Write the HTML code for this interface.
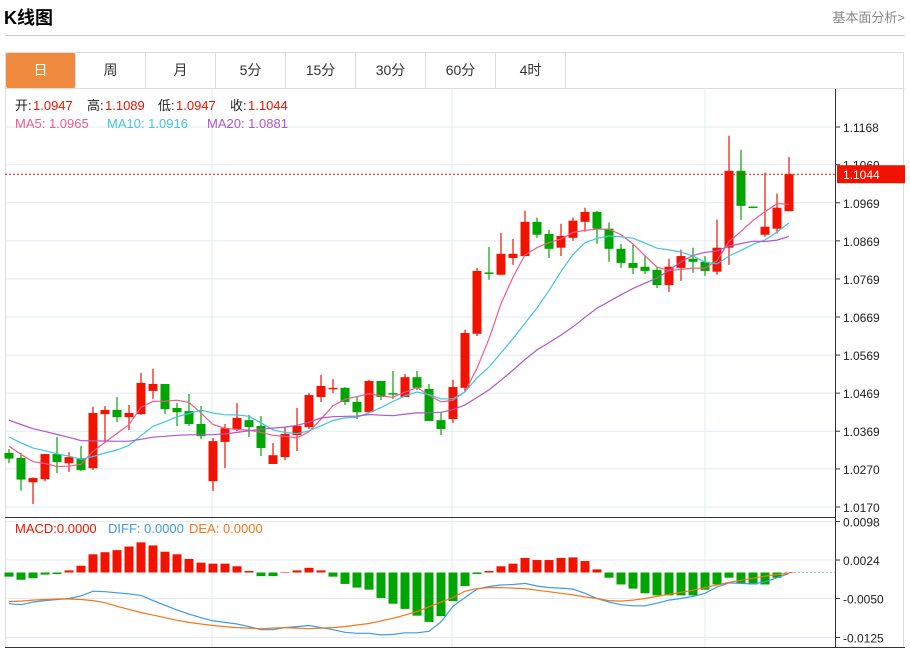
<!DOCTYPE html>
<html><head><meta charset="utf-8">
<style>
body{margin:0;width:910px;height:648px;background:#fff;font-family:"Liberation Sans","Noto Sans CJK SC",sans-serif;overflow:hidden;position:relative}
#title{position:absolute;left:4px;top:4px;font-size:18px;font-weight:bold;color:#000}
#more{position:absolute;right:5px;top:7px;font-size:13px;color:#888}
#hr{position:absolute;left:5px;top:35px;width:900px;height:1px;background:#ccc}
#box{position:absolute;left:5px;top:52px;width:899px;height:596px;border:1px solid #ddd;border-bottom:none;box-sizing:border-box}
.tab{position:absolute;top:53px;height:35px;width:70px;line-height:35px;text-align:center;font-size:14px;color:#333;border-right:1px solid #ddd;box-sizing:border-box}
.tab.on{background:#f08a3e;color:#fff;border-radius:2px}
svg{position:absolute;left:0;top:0}
</style></head><body>
<div id="title">K线图</div>
<div id="more">基本面分析&gt;</div>
<div id="hr"></div>
<div id="box"></div>
<div class="tab on" style="left:6px">日</div>
<div class="tab" style="left:76px">周</div>
<div class="tab" style="left:146px">月</div>
<div class="tab" style="left:216px">5分</div>
<div class="tab" style="left:286px">15分</div>
<div class="tab" style="left:356px">30分</div>
<div class="tab" style="left:426px">60分</div>
<div class="tab" style="left:496px">4时</div>
<svg id="chart" width="910" height="648"></svg>
<script>
const opens=[1.0312,1.0299,1.0235,1.0243,1.0309,1.0285,1.0298,1.0272,1.0414,1.0425,1.0406,1.0414,1.0475,1.0493,1.0430,1.0422,1.0388,1.0238,1.0341,1.0375,1.0398,1.0383,1.0283,1.0301,1.0359,1.0380,1.0459,1.0480,1.0483,1.0446,1.0419,1.0501,1.0469,1.0459,1.0511,1.0480,1.0398,1.0401,1.0483,1.0625,1.0786,1.0780,1.0824,1.0829,1.0919,1.0887,1.0851,1.0877,1.0919,1.0945,1.0901,1.0848,1.0811,1.0801,1.0793,1.0753,1.0798,1.0822,1.0814,1.0788,1.0851,1.1053,1.0959,1.0885,1.0901,1.0947];
const highs=[1.0322,1.0312,1.0248,1.0309,1.0354,1.0314,1.0330,1.0433,1.0435,1.0459,1.0438,1.0522,1.0533,1.0493,1.0443,1.0467,1.0435,1.0351,1.0388,1.0443,1.0412,1.0409,1.0338,1.0380,1.0430,1.0469,1.0517,1.0506,1.0485,1.0459,1.0504,1.0501,1.0527,1.0519,1.0527,1.0493,1.0419,1.0504,1.0635,1.0798,1.0853,1.0890,1.0874,1.0948,1.0930,1.0898,1.0914,1.0930,1.0956,1.0948,1.0917,1.0861,1.0859,1.0830,1.0801,1.0822,1.0846,1.0851,1.0829,1.0925,1.1145,1.1108,1.0959,1.1048,1.0993,1.1089];
const lows=[1.0285,1.0213,1.0178,1.0238,1.0259,1.0262,1.0264,1.0267,1.0341,1.0393,1.0372,1.0412,1.0454,1.0414,1.0383,1.0383,1.0348,1.0212,1.0272,1.0369,1.0354,1.0304,1.0283,1.0293,1.0317,1.0375,1.0446,1.0469,1.0438,1.0401,1.0417,1.0451,1.0454,1.0459,1.0477,1.0396,1.0359,1.0391,1.0472,1.0619,1.0767,1.0780,1.0806,1.0829,1.0877,1.0824,1.0829,1.0869,1.0893,1.0861,1.0814,1.0798,1.0782,1.0782,1.0745,1.0735,1.0764,1.0785,1.0777,1.0780,1.0806,1.0924,1.0958,1.0880,1.0888,1.0947];
const closes=[1.0297,1.0242,1.0246,1.0309,1.0288,1.0301,1.0267,1.0417,1.0425,1.0406,1.0417,1.0496,1.0493,1.0427,1.0419,1.0388,1.0356,1.0343,1.0377,1.0404,1.0380,1.0325,1.0306,1.0362,1.0383,1.0464,1.0488,1.0483,1.0446,1.0419,1.0501,1.0459,1.0467,1.0511,1.0483,1.0396,1.0375,1.0485,1.0627,1.0790,1.0782,1.0835,1.0835,1.0919,1.0885,1.0848,1.0882,1.0922,1.0945,1.0901,1.0848,1.0811,1.0798,1.0790,1.0753,1.0801,1.0829,1.0814,1.0790,1.0851,1.1053,1.0961,1.0958,1.0906,1.0956,1.1044];
const prevCloses=[1.0470,1.0462,1.0455,1.0450,1.0445,1.0440,1.0435,1.0430,1.0423,1.0410,1.0395,1.0385,1.0378,1.0370,1.0362,1.0350,1.0342,1.0333,1.0327];
const priceTicks=[1.1168,1.1069,1.0969,1.0869,1.0769,1.0669,1.0569,1.0469,1.0369,1.0270,1.0170];
const macdHist=[-0.0008,-0.0014,-0.0011,-0.0004,-0.0003,0.0004,0.0013,0.0035,0.0039,0.0043,0.0050,0.0058,0.0052,0.0040,0.0035,0.0026,0.0019,0.0017,0.0017,0.0012,0.0003,-0.0007,-0.0007,0.0000,0.0004,0.0009,0.0004,-0.0008,-0.0022,-0.0029,-0.0033,-0.0049,-0.0060,-0.0070,-0.0083,-0.0095,-0.0084,-0.0055,-0.0026,-0.0003,0.0003,0.0012,0.0017,0.0028,0.0024,0.0024,0.0028,0.0029,0.0022,0.0006,-0.0010,-0.0023,-0.0031,-0.0040,-0.0044,-0.0044,-0.0044,-0.0044,-0.0033,-0.0023,-0.0010,-0.0021,-0.0023,-0.0023,-0.0010,0.0000];
const diff=[-0.0060,-0.0062,-0.0057,-0.0054,-0.0052,-0.0050,-0.0045,-0.0036,-0.0037,-0.0039,-0.0041,-0.0044,-0.0054,-0.0063,-0.0072,-0.0080,-0.0087,-0.0093,-0.0096,-0.0099,-0.0104,-0.0110,-0.0110,-0.0106,-0.0104,-0.0102,-0.0106,-0.0110,-0.0115,-0.0117,-0.0117,-0.0120,-0.0119,-0.0116,-0.0116,-0.0113,-0.0095,-0.0065,-0.0048,-0.0032,-0.0027,-0.0024,-0.0023,-0.0021,-0.0026,-0.0029,-0.0030,-0.0032,-0.0040,-0.0050,-0.0057,-0.0062,-0.0064,-0.0064,-0.0059,-0.0053,-0.0050,-0.0046,-0.0040,-0.0028,-0.0020,-0.0021,-0.0022,-0.0018,-0.0010,-0.0002];
const dea=[-0.0056,-0.0055,-0.0053,-0.0052,-0.0051,-0.0051,-0.0052,-0.0054,-0.0058,-0.0065,-0.0071,-0.0077,-0.0082,-0.0087,-0.0092,-0.0096,-0.0099,-0.0102,-0.0104,-0.0106,-0.0107,-0.0108,-0.0107,-0.0106,-0.0107,-0.0108,-0.0107,-0.0106,-0.0104,-0.0101,-0.0098,-0.0093,-0.0088,-0.0082,-0.0075,-0.0066,-0.0057,-0.0048,-0.0036,-0.0031,-0.0029,-0.0029,-0.0030,-0.0031,-0.0034,-0.0037,-0.0040,-0.0043,-0.0047,-0.0050,-0.0054,-0.0055,-0.0053,-0.0050,-0.0046,-0.0042,-0.0038,-0.0034,-0.0029,-0.0024,-0.0019,-0.0015,-0.0011,-0.0007,-0.0004,-0.0001];
const macdTicks=[0.0098,0.0024,-0.0050,-0.0125];

const NS='http://www.w3.org/2000/svg';
const svg=document.getElementById('chart');
function mk(tag,attrs,parent){const e=document.createElementNS(NS,tag);for(const k in attrs)e.setAttribute(k,attrs[k]);(parent||svg).appendChild(e);return e;}
const xOf=i=>9+12*i;
const yP=p=>127+(1.1168-p)*3807.6;
const yM=v=>572.5-v*5200;
const RED='#f21200',GREEN='#00a600';

// grid
[212,452,705].forEach(x=>{const g=mk('line',{x1:x,x2:x,y1:89,y2:648,stroke:'#e2ebf2'});

});
mk('line',{x1:5,x2:905,y1:88.5,y2:88.5,stroke:'#ddd'});
priceTicks.forEach(t=>{const y=yP(t);
const g=mk('line',{x1:5,x2:835,y1:y,y2:y,stroke:'#e2ebf2'});


mk('line',{x1:835,x2:840,y1:y,y2:y,stroke:'#333'});
const tx=mk('text',{x:843,y:y+5,'font-size':12,fill:'#222'});tx.textContent=t.toFixed(4);

});
macdTicks.forEach(t=>{const y=yM(t);
const g=mk('line',{x1:5,x2:835,y1:y,y2:y,stroke:'#e2ebf2'});


mk('line',{x1:835,x2:840,y1:y,y2:y,stroke:'#333'});
const tx=mk('text',{x:843,y:y+5,'font-size':12,fill:'#222'});tx.textContent=t.toFixed(4);

});
mk('line',{x1:835.5,x2:835.5,y1:89,y2:648,stroke:'#333'});
mk('line',{x1:5,x2:835,y1:517.5,y2:517.5,stroke:'#333'});
mk('line',{x1:5,x2:905,y1:647.5,y2:647.5,stroke:'#333'});
mk('line',{x1:790,x2:835,y1:yM(0),y2:yM(0),stroke:'#8fd3e8','stroke-dasharray':'2,2'});

// candles
closes.forEach((c,i)=>{const o=opens[i],up=c>=o,col=up?RED:GREEN,x=xOf(i);
const g=mk('g',{});


mk('line',{x1:x,x2:x,y1:yP(highs[i]),y2:yP(lows[i]),stroke:col,'stroke-width':1.2},g);
const t=yP(Math.max(o,c)),b=yP(Math.min(o,c));
mk('rect',{x:x-4.5,y:t,width:9,height:Math.max(1.5,b-t),fill:col},g);});

// MAs
const all=prevCloses.concat(closes),off=prevCloses.length;
function ma(n){return closes.map((_,i)=>{let s=0,k=0;for(let j=i+off;j>i+off-n&&j>=0;j--){s+=all[j];k++;}return s/k;});}
[[5,'#ef5b8a','ma5-line'],[10,'#3fc6e0','ma10-line'],[20,'#b455c9','ma20-line']].forEach(([n,col,nm])=>{
const v=ma(n);const p=mk('polyline',{points:v.map((m,i)=>xOf(i)+','+yP(m).toFixed(1)).join(' '),fill:'none',stroke:col,'stroke-width':1.2});

});
mk('line',{x1:5,x2:5,y1:0,y2:0});
// left edge extension of MAs
// last price line
const lp=mk('line',{x1:5,x2:835,y1:yP(closes[closes.length-1]),y2:yP(closes[closes.length-1]),stroke:RED,'stroke-dasharray':'2,2'});


const ly=yP(closes[closes.length-1]);
const lb=mk('rect',{x:837,y:ly-9,width:68,height:18,fill:RED});


const lt=mk('text',{x:843,y:ly+5,'font-size':12,fill:'#fff'});lt.textContent=closes[closes.length-1].toFixed(4);

// MACD hist
macdHist.forEach((v,i)=>{const y0=yM(0),y1=yM(v);
const r=mk('rect',{x:xOf(i)-4.5,y:Math.min(y0,y1),width:9,height:Math.max(0.5,Math.abs(y1-y0)),fill:v>=0?RED:GREEN});

});
[[diff,'#3d9be9','diff-line'],[dea,'#f5761b','dea-line']].forEach(([arr,col,nm])=>{
const p=mk('polyline',{points:arr.map((v,i)=>xOf(i)+','+yM(v).toFixed(1)).join(' '),fill:'none',stroke:col,'stroke-width':1.2});

});

// legends
function txt(x,y,s,col,name){const t=mk('text',{x:x,y:y,'font-size':13,fill:col});t.textContent=s;

return t;}
const last=closes.length-1;
txt(15,110,'开:','#222','open-label');txt(33,110,opens[last].toFixed(4),RED,'open-value');
txt(87,110,'高:','#222','high-label');txt(105,110,highs[last].toFixed(4),RED,'high-value');
txt(158,110,'低:','#222','low-label');txt(176,110,lows[last].toFixed(4),RED,'low-value');
txt(230,110,'收:','#222','close-label');txt(248,110,closes[last].toFixed(4),RED,'close-value');
const m5=ma(5),m10=ma(10),m20=ma(20);
txt(15,128,'MA5: '+m5[last].toFixed(4),'#ef5b8a','ma5-legend');
txt(107,128,'MA10: '+m10[last].toFixed(4),'#3fc6e0','ma10-legend');
txt(207,128,'MA20: '+m20[last].toFixed(4),'#b455c9','ma20-legend');
txt(15,533,'MACD:0.0000',RED,'macd-legend');
txt(108,533,'DIFF: 0.0000','#3d9be9','diff-legend');
txt(189,533,'DEA: 0.0000','#f5761b','dea-legend');
</script>
</body></html>
